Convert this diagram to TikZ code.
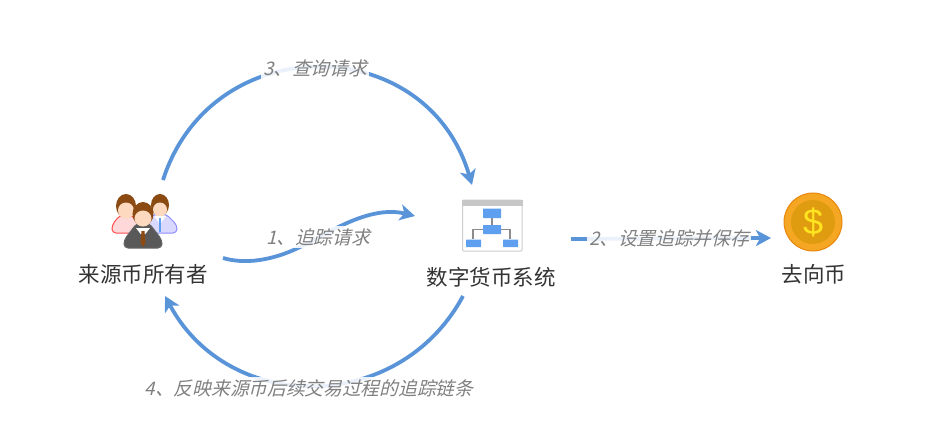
\documentclass[tikz,border=0pt]{standalone}
\usepackage{fontspec}
\setmainfont{Noto Sans CJK SC}
\newfontfamily\slantfont[FakeSlant=0.25]{Noto Sans CJK SC}
\newfontfamily\coinfont{Liberation Sans}
\usetikzlibrary{arrows.meta,calc}
\definecolor{flowblue}{HTML}{5A94D8}
\definecolor{boxblue}{HTML}{5F9FF0}
\definecolor{hairbrown}{HTML}{8A4A12}
\definecolor{skintone}{HTML}{FCD9BF}
\definecolor{coinrim}{HTML}{F5A623}
\definecolor{coinedge}{HTML}{E8870E}
\definecolor{coinface}{HTML}{E09C10}
\definecolor{coinsign}{HTML}{FFE41F}
\tikzset{
  iconbox/.style={inner sep=0pt,minimum width=#1},
  nametext/.style={text=black!80,font=\fontsize{21.5}{21.5}\selectfont,inner sep=0pt},
  steptext/.style={text=black!50,font=\slantfont\fontsize{18.7}{18.7}\selectfont,inner sep=2pt,
    fill=white,fill opacity=0.88,text opacity=1},
  flowline/.style={draw=flowblue,line width=3.8pt,-{Stealth[length=15pt,width=16pt,inset=4pt]}},
}
\newcommand{\mperson}[7]{
  % #1 head centre, #2 body fill, #3 body line, #4 #5 head radii, #6 body half width, #7 body bottom
  \begin{scope}[shift={#1}]
    \fill [#2,draw=#3,line width=1pt,rounded corners=4pt] (-#6,#7) -- (-#6,#7-8) -- (-6,9) -- (6,9) -- (#6,#7-8) -- (#6,#7) -- cycle;
    \fill [hairbrown] (0,0) circle [x radius=#4,y radius=#5];
    \fill [skintone] (0,4.5) circle [x radius=#4-2,y radius=#5-4];
  \end{scope}
}
\newcommand{\mchart}[2]{
  \fill [boxblue,rounded corners=0.5pt] #1 rectangle #2;
}
\begin{document}
\begin{tikzpicture}[x=1pt,y=-1pt,>=latex]
  \useasboundingbox (0,0) rectangle (950,421);

  \node [iconbox=62pt,minimum height=58pt] (owner) at (143,222) {};
  \node [iconbox=61pt,minimum height=52pt] (system) at (492,225) {};
  \node [iconbox=58pt,minimum height=58pt] (coin) at (813,222) {};

  \node [nametext] (ownername) at (143,274) {来源币所有者};
  \node [nametext] (systemname) at (491,277) {数字货币系统};
  \node [nametext] (coinname) at (814,274) {去向币};

  % people
  \mperson{(126,206)}{red!15}{red!70}{10}{12}{14}{27}
  \mperson{(160,205)}{blue!15}{blue!45}{9}{11}{17}{28}
  \fill [white] (154,216) -- (160,224) -- (166,216) -- cycle;
  \fill [boxblue] (158.5,218) rectangle (161,232);
  \mperson{(143,214)}{black!65}{black!60}{10.5}{12}{19}{34}
  \fill [white] (136,228) -- (143,237) -- (150,228) -- cycle;
  \fill [hairbrown] (141.5,231) -- (144.5,231) -- (145.5,243) -- (143,247) -- (140.5,243) -- cycle;

  % org chart
  \draw [black!20,fill=white,line width=1pt,rounded corners=1pt] (462.5,200) rectangle (522,251);
  \fill [black!22] (462,200) rectangle (522.5,206);
  \draw [black!45,line width=1.4pt] (492,216) -- (492,227) (473,239) -- (473,229.5) -- (510,229.5) -- (510,239);
  \mchart{(483,208.5)}{(501,218)}
  \mchart{(483,225)}{(501,234)}
  \mchart{(466,239.5)}{(481,247)}
  \mchart{(503,239.5)}{(518,247)}

  % coin
  \fill [coinrim,draw=coinedge,line width=1pt] (coin) circle [radius=29];
  \fill [coinface] (coin) circle [radius=22];
  \node [text=coinsign,font=\coinfont\fontsize{36}{36}\selectfont,inner sep=0pt] (dollar) at (coin) {\$};

  \draw [flowline] ($(owner)+(80,36)$) .. controls +(27,8) and +(-20,10) .. ($(owner)+(157,25)$) .. controls +(30,-15) and +(-45,-11) .. ($(system)+(-77,-9)$);
  \draw [flowline] ($(system)+(79,14)$) -- ($(coin)+(-42,16)$);
  \draw [flowline] ($(owner)+(20,-42)$) .. controls +(49,-152) and +(-45,-154) .. ($(system)+(-20,-40)$);
  \draw [flowline] ($(system)+(-29,71)$) .. controls +(-64,119) and +(64,119) .. ($(owner)+(22,74)$);

  \node [steptext] (stepa) at (318,237) {1、追踪请求};
  \node [steptext] (stepb) at (669,238) {2、设置追踪并保存};
  \node [steptext] (stepc) at (315,68) {3、查询请求};
  \node [steptext] (stepd) at (309,388) {4、反映来源币后续交易过程的追踪链条};
\end{tikzpicture}
\end{document}
